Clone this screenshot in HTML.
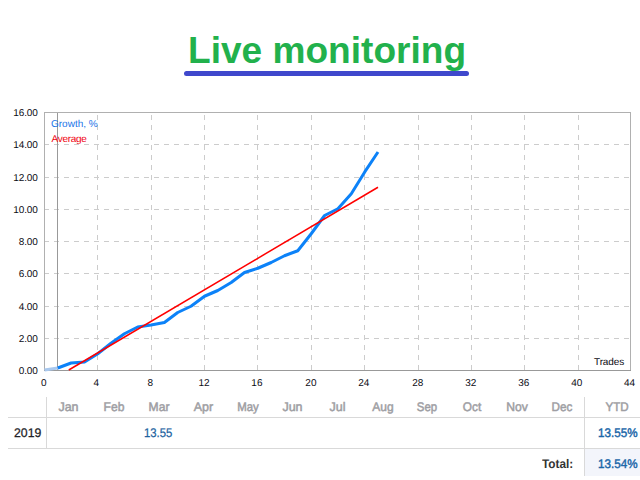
<!DOCTYPE html>
<html><head><meta charset="utf-8">
<style>
html,body{margin:0;padding:0;background:#fff;}
body{width:640px;height:480px;position:relative;overflow:hidden;font-family:"Liberation Sans",sans-serif;}
.t{position:absolute;white-space:nowrap;line-height:1;}
.ax{font-size:10px;color:#0c0c14;text-rendering:geometricPrecision;}
.yl{width:37.6px;text-align:right;left:0;letter-spacing:-0.15px;}
.xl{width:30px;text-align:center;}
.mo{font-size:12.5px;color:#9e9ea3;-webkit-text-stroke:0.5px #9e9ea3;width:60px;text-align:center;top:401px;text-rendering:geometricPrecision;}
.num{font-size:12.5px;color:#1f68a8;-webkit-text-stroke:0.25px #1f68a8;transform-origin:0 0;text-rendering:geometricPrecision;}
svg{position:absolute;left:0;top:0;}
</style></head><body>
<div class="t" id="title" style="left:188px;top:32px;font-size:37.1px;font-weight:bold;color:#22b14c;">Live monitoring</div>
<div style="position:absolute;left:184px;top:71px;width:285px;height:5px;border-radius:3px;background:#3f48cc;"></div>

<svg width="640" height="480" viewBox="0 0 640 480">
<g shape-rendering="crispEdges" stroke="#cccccc" stroke-width="1" stroke-dasharray="5 5" fill="none">
<!-- horizontal grid -->
<path d="M44 144.5H631M44 177.5H631M44 209.5H631M44 241.5H631M44 273.5H631M44 306.5H631M44 338.5H631"/>
<!-- vertical grid, drawn bottom-up -->
<path d="M97.5 370V112M151.5 370V112M204.5 370V112M257.5 370V112M311.5 370V112M364.5 370V112M418.5 370V112M471.5 370V112M524.5 370V112M578.5 370V112"/>
</g>
<g shape-rendering="crispEdges" fill="none">
<path d="M44.5 371V112.5H630.5V371" stroke="#b0b0b0"/>
<path d="M44 370.5H631" stroke="#999999"/>
<path d="M57.5 113V370" stroke="#999999"/>
</g>
<path d="M44.5 370L57.8 368" stroke="#a9c8ee" stroke-width="3.2" fill="none"/>
<path d="M57.8 368L71.1 363L84.5 362L97.8 353.75L111 343.25L124.4 333.75L137.7 327L151 325L164.4 322.5L177.7 312.5L191 306.25L204.5 296.25L217.8 290.5L231.2 282.5L244.5 272.5L257.8 268.25L271.2 262.5L284.5 255.75L297.8 250.75L311.2 233.75L324.6 215.5L337.9 208.75L351.3 193.75L364.6 172.2L378 152" stroke="#0c82f8" stroke-width="3" fill="none" stroke-linejoin="round"/>
<path d="M68.75 370L378 187.25" stroke="#ff0000" stroke-width="1.5" fill="none"/>
</svg>

<div class="t ax yl" style="top:109px;">16.00</div>
<div class="t ax yl" style="top:141px;">14.00</div>
<div class="t ax yl" style="top:174px;">12.00</div>
<div class="t ax yl" style="top:206px;">10.00</div>
<div class="t ax yl" style="top:238px;">8.00</div>
<div class="t ax yl" style="top:270px;">6.00</div>
<div class="t ax yl" style="top:303px;">4.00</div>
<div class="t ax yl" style="top:335px;">2.00</div>
<div class="t ax yl" style="top:367px;">0.00</div>

<div class="t ax xl" style="left:28.75px;top:379px;">0</div>
<div class="t ax xl" style="left:81.40px;top:379px;">4</div>
<div class="t ax xl" style="left:135.25px;top:379px;">8</div>
<div class="t ax xl" style="left:189.00px;top:379px;">12</div>
<div class="t ax xl" style="left:241.90px;top:379px;">16</div>
<div class="t ax xl" style="left:295.90px;top:379px;">20</div>
<div class="t ax xl" style="left:348.75px;top:379px;">24</div>
<div class="t ax xl" style="left:402.75px;top:379px;">28</div>
<div class="t ax xl" style="left:455.75px;top:379px;">32</div>
<div class="t ax xl" style="left:508.75px;top:379px;">36</div>
<div class="t ax xl" style="left:561.75px;top:379px;">40</div>
<div class="t ax xl" style="left:614.50px;top:379px;">44</div>

<div class="t ax" id="growth" style="left:51px;top:120px;color:#1a74e8;">Growth, %</div>
<div class="t ax" id="average" style="left:51.5px;top:135px;letter-spacing:-0.3px;color:#f00010;">Average</div>
<div class="t ax" id="trades" style="left:594px;top:358px;letter-spacing:-0.1px;">Trades</div>

<!-- table lines -->
<div style="position:absolute;left:46px;top:397px;width:1px;height:52px;background:#d9d9d9;"></div>
<div style="position:absolute;left:8px;top:417px;width:632px;height:1px;background:#d9d9d9;"></div>
<div style="position:absolute;left:8px;top:448px;width:632px;height:1px;background:#d9d9d9;"></div>
<div style="position:absolute;left:585px;top:449px;width:55px;height:27px;background:#f3f5fb;"></div>
<div style="position:absolute;left:584px;top:397px;width:1px;height:79px;background:#d9d9d9;"></div>

<div class="t mo" style="left:38.5px;transform:scaleX(1.000);">Jan</div>
<div class="t mo" style="left:84.0px;transform:scaleX(0.967);">Feb</div>
<div class="t mo" style="left:128.5px;transform:scaleX(0.967);">Mar</div>
<div class="t mo" style="left:173.4px;transform:scaleX(1.000);">Apr</div>
<div class="t mo" style="left:218.4px;transform:scaleX(0.913);">May</div>
<div class="t mo" style="left:262.5px;transform:scaleX(1.000);">Jun</div>
<div class="t mo" style="left:307.5px;transform:scaleX(1.000);">Jul</div>
<div class="t mo" style="left:352.8px;transform:scaleX(0.959);">Aug</div>
<div class="t mo" style="left:397.2px;transform:scaleX(0.914);">Sep</div>
<div class="t mo" style="left:442.1px;transform:scaleX(0.945);">Oct</div>
<div class="t mo" style="left:487.1px;transform:scaleX(0.971);">Nov</div>
<div class="t mo" style="left:532.0px;transform:scaleX(0.937);">Dec</div>
<div class="t mo" style="left:587.1px;transform:scaleX(0.928);">YTD</div>

<div class="t" id="y2019" style="left:13.5px;top:427px;font-size:12.5px;color:#222226;-webkit-text-stroke:0.25px #222226;transform-origin:0 0;transform:scaleX(.98);text-rendering:geometricPrecision;">2019</div>
<div class="t num" id="mar" style="left:144px;top:427px;transform:scaleX(.907);color:#22609a;">13.55</div>
<div class="t num" id="ytd1" style="left:597.5px;top:427px;transform:scaleX(.932);color:#1a66a8;-webkit-text-stroke:0.45px #1a66a8;">13.55%</div>
<div class="t num" id="ytd2" style="left:597.5px;top:458px;transform:scaleX(.932);color:#1a66a8;-webkit-text-stroke:0.45px #1a66a8;">13.54%</div>
<div class="t" id="total" style="left:541.5px;top:458px;font-size:12.5px;font-weight:bold;color:#333;transform-origin:0 0;transform:scaleX(.945);text-rendering:geometricPrecision;">Total:</div>
</body></html>
